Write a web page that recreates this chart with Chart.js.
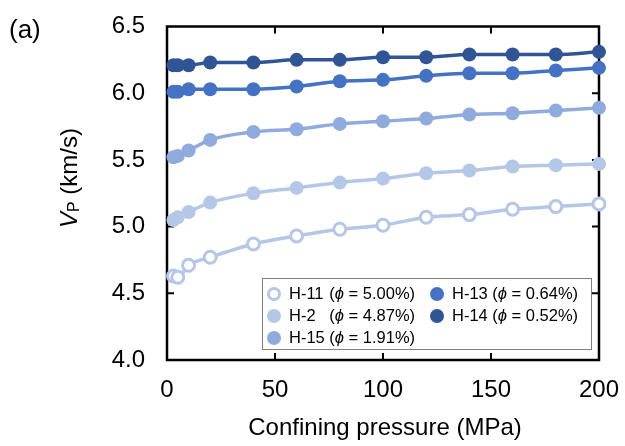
<!DOCTYPE html>
<html>
<head>
<meta charset="utf-8">
<script src="https://cdn.jsdelivr.net/npm/chart.js@4/dist/chart.umd.min.js"></script>
<style>
  html, body { margin: 0; padding: 0; background: #fff; }
</style>
</head>
<body>
<canvas id="chart" width="625" height="446"></canvas>
<script>
// confining pressure steps (MPa)
const pressure = [3, 5, 10, 20, 40, 60, 80, 100, 120, 140, 160, 180, 200];

// Vp (km/s) per sample
const vpH11 = [4.63, 4.62, 4.71, 4.77, 4.87, 4.93, 4.98, 5.01, 5.07, 5.09, 5.13, 5.15, 5.17];
const vpH2  = [5.05, 5.07, 5.11, 5.18, 5.25, 5.29, 5.33, 5.36, 5.40, 5.42, 5.45, 5.46, 5.47];
const vpH15 = [5.52, 5.53, 5.57, 5.65, 5.71, 5.73, 5.77, 5.79, 5.81, 5.84, 5.85, 5.87, 5.89];
const vpH13 = [6.01, 6.01, 6.03, 6.03, 6.03, 6.05, 6.09, 6.10, 6.13, 6.15, 6.15, 6.17, 6.19];
const vpH14 = [6.21, 6.21, 6.21, 6.23, 6.23, 6.25, 6.25, 6.27, 6.27, 6.29, 6.29, 6.29, 6.31];

const sampleNames = ['H-11', 'H-2', 'H-15', 'H-13', 'H-14'];
const porosity = ['5.00', '4.87', '1.91', '0.64', '0.52'];

const xTicks = [0, 50, 100, 150, 200];
const yTicks = [4.0, 4.5, 5.0, 5.5, 6.0, 6.5];

const colors = ['#B4C7E7', '#B4C7E7', '#8FAADC', '#4472C4', '#2F5597'];
const FONT = "'Liberation Sans', Arial, 'DejaVu Sans', sans-serif";

const seriesList = [vpH11, vpH2, vpH15, vpH13, vpH14];

const datasets = seriesList.map((vals, i) => {
  const open = i === 0;
  return {
    label: sampleNames[i],
    data: pressure.map((p, k) => ({ x: p, y: vals[k] })),
    borderColor: colors[i],
    borderWidth: 3.5,
    cubicInterpolationMode: 'monotone',
    pointRadius: open ? 6 : 7,
    pointBorderWidth: open ? 3 : 0,
    pointBorderColor: colors[i],
    pointBackgroundColor: open ? '#ffffff' : colors[i],
    clip: false
  };
});

// frame with inward ticks, drawn under the points
const framePlugin = {
  id: 'frame',
  beforeDatasetsDraw(chart) {
    const { ctx, chartArea: a, scales } = chart;
    ctx.save();
    ctx.strokeStyle = '#000';
    ctx.lineWidth = 2.5;
    ctx.strokeRect(a.left, a.top, a.right - a.left, a.bottom - a.top);
    ctx.lineWidth = 2;
    ctx.beginPath();
    xTicks.slice(1, -1).forEach(v => {
      const px = scales.x.getPixelForValue(v);
      ctx.moveTo(px, a.bottom); ctx.lineTo(px, a.bottom - 7);
      ctx.moveTo(px, a.top); ctx.lineTo(px, a.top + 7);
    });
    yTicks.slice(1, -1).forEach(v => {
      const py = scales.y.getPixelForValue(v);
      ctx.moveTo(a.left, py); ctx.lineTo(a.left + 7, py);
      ctx.moveTo(a.right, py); ctx.lineTo(a.right - 7, py);
    });
    ctx.stroke();
    ctx.restore();
  }
};

function drawParts(ctx, parts, x, y, size) {
  parts.forEach(p => {
    ctx.font = (p.italic ? 'italic ' : '') + (p.size || size) + 'px ' + FONT;
    ctx.fillText(p.t, x, y + (p.dy || 0));
    x += ctx.measureText(p.t).width;
  });
  return x;
}

function partsWidth(ctx, parts, size) {
  let w = 0;
  parts.forEach(p => {
    ctx.font = (p.italic ? 'italic ' : '') + (p.size || size) + 'px ' + FONT;
    w += ctx.measureText(p.t).width;
  });
  return w;
}

const textPlugin = {
  id: 'texts',
  afterDraw(chart) {
    const { ctx } = chart;
    ctx.save();
    ctx.fillStyle = '#000';
    ctx.textBaseline = 'middle';

    // panel label
    ctx.textAlign = 'left';
    ctx.font = '26px ' + FONT;
    ctx.fillText('(a)', 9, 31);

    // x title
    ctx.textAlign = 'center';
    ctx.font = '24px ' + FONT;
    ctx.fillText('Confining pressure (MPa)', 385, 428);

    // y title, rotated
    ctx.textAlign = 'left';
    const yParts = [
      { t: 'V', italic: true },
      { t: 'P', size: 16, dy: 5 },
      { t: ' (km/s)' }
    ];
    ctx.translate(70, 178);
    ctx.rotate(-Math.PI / 2);
    const w = partsWidth(ctx, yParts, 24);
    drawParts(ctx, yParts, -w / 2, 0, 24);
    ctx.setTransform(1, 0, 0, 1, 0, 0);

    // legend box
    ctx.fillStyle = '#fff';
    ctx.fillRect(262, 278, 330, 72);
    ctx.strokeStyle = '#7f7f7f';
    ctx.lineWidth = 1;
    ctx.strokeRect(262.5, 278.5, 329, 71);

    const cols = [[0, 1, 2], [3, 4]];
    const colX = [274, 437];
    const rowY = [294, 316, 338];
    const fs = 16.5;
    cols.forEach((items, c) => {
      ctx.font = fs + 'px ' + FONT;
      const nameW = Math.max(...items.map(i => ctx.measureText(sampleNames[i] + ' ').width));
      items.forEach((i, r) => {
        const cx = colX[c], cy = rowY[r];
        ctx.beginPath();
        if (i === 0) {
          ctx.arc(cx, cy, 5.5, 0, Math.PI * 2);
          ctx.fillStyle = '#fff';
          ctx.fill();
          ctx.lineWidth = 3;
          ctx.strokeStyle = colors[i];
          ctx.stroke();
        } else {
          ctx.arc(cx, cy, 7, 0, Math.PI * 2);
          ctx.fillStyle = colors[i];
          ctx.fill();
        }
        ctx.fillStyle = '#000';
        ctx.font = fs + 'px ' + FONT;
        ctx.fillText(sampleNames[i], cx + 15, cy);
        drawParts(ctx, [
          { t: '(' },
          { t: 'ϕ', italic: true },
          { t: ' = ' + porosity[i] + '%)' }
        ], cx + 15 + nameW, cy, fs);
      });
    });
    ctx.restore();
  }
};

new Chart(document.getElementById('chart'), {
  type: 'line',
  data: { datasets: datasets },
  options: {
    responsive: false,
    animation: false,
    layout: { padding: { left: 0, top: 26.5, right: 26, bottom: 0 } },
    plugins: { legend: { display: false }, tooltip: { enabled: false } },
    scales: {
      x: {
        type: 'linear',
        min: 0, max: 200,
        afterFit: s => { s.height = 86; s.paddingLeft = 0; s.paddingRight = 0; },
        afterBuildTicks: s => { s.ticks = xTicks.map(v => ({ value: v })); },
        grid: { display: false, drawTicks: false },
        border: { display: false },
        ticks: { color: '#000', padding: 16, font: { family: FONT, size: 24 } }
      },
      y: {
        min: 4.0, max: 6.5,
        afterFit: s => { s.width = 167; s.paddingTop = 0; s.paddingBottom = 0; },
        afterBuildTicks: s => { s.ticks = yTicks.map(v => ({ value: v })); },
        grid: { display: false, drawTicks: false },
        border: { display: false },
        ticks: {
          color: '#000', padding: 22, font: { family: FONT, size: 24 },
          callback: v => v.toFixed(1)
        }
      }
    }
  },
  plugins: [framePlugin, textPlugin]
});
</script>
</body>
</html>
